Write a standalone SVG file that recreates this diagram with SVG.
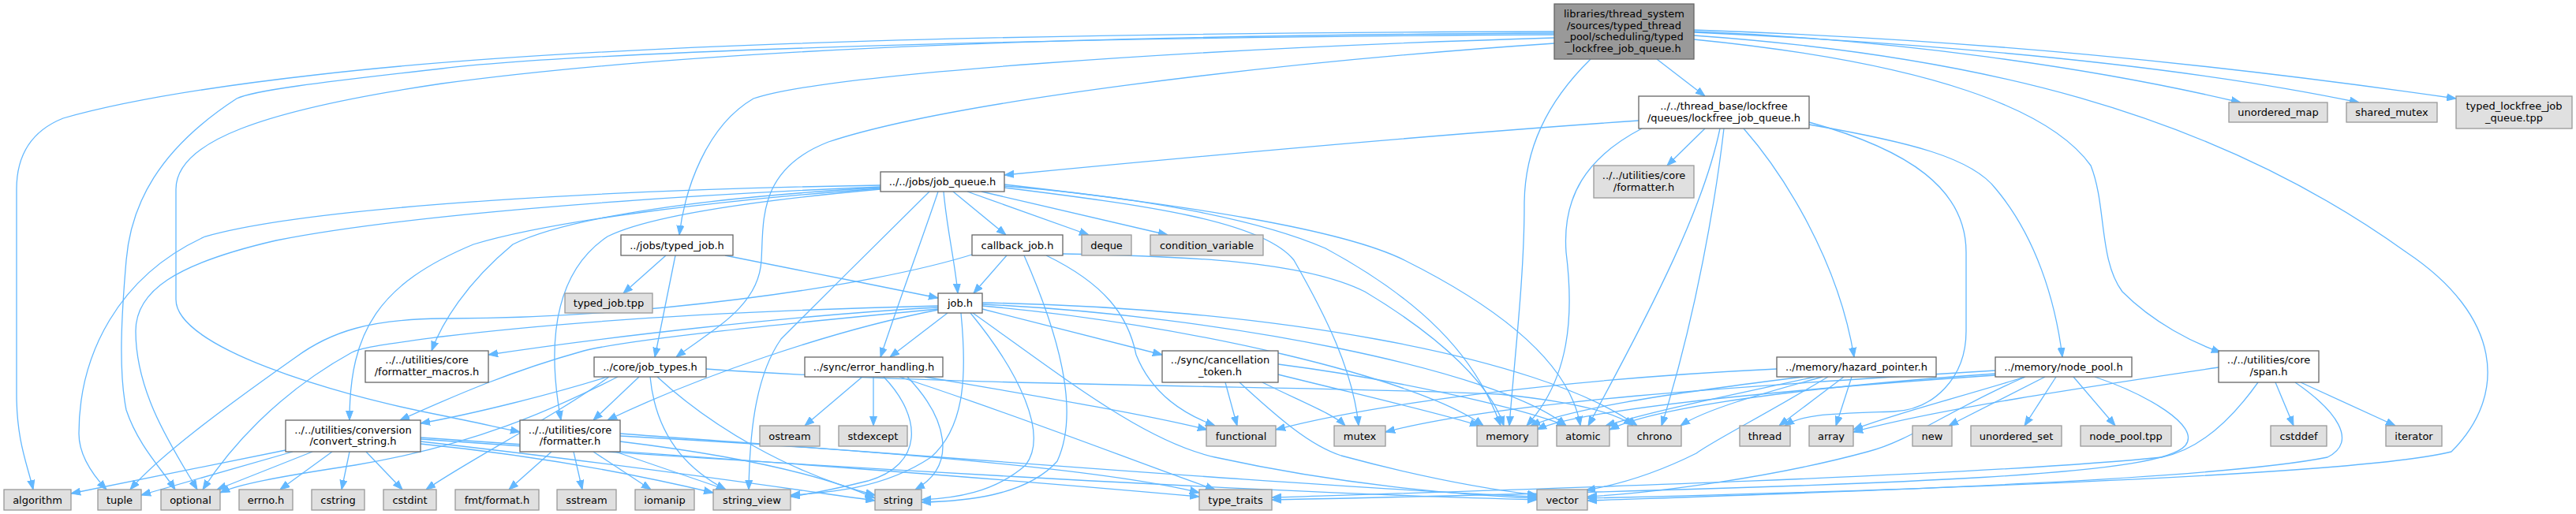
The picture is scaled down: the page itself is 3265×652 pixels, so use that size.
<svg xmlns="http://www.w3.org/2000/svg" width="3265" height="652" viewBox="0 0 3265 652">
<style>
.n{fill:#ffffff;stroke:#666666;stroke-width:1.3}
.s{fill:#e0e0e0;stroke:#999999;stroke-width:1.3}
.r{fill:#999999;stroke:#666666;stroke-width:1.3}
text{font-family:"DejaVu Sans","Liberation Sans",sans-serif;font-size:13px;fill:#000000;text-anchor:middle}
.e{fill:none;stroke:#63b8ff;stroke-width:1.3;marker-end:url(#ah)}
</style>
<defs>
<marker id="ah" markerUnits="userSpaceOnUse" markerWidth="12" markerHeight="10" refX="12" refY="5" orient="auto">
<path d="M0,0.5 L12,5 L0,9.5 z" fill="#63b8ff" stroke="#63b8ff" stroke-width="1"/>
</marker>
</defs>
<rect width="3265" height="652" fill="#ffffff"/>
<g id="edges">
<path class="e" d="M2100,75 L2161,122"/>
<path class="e" d="M1970,48 C1500,62 1040,95 955,125 C895,160 868,240 861,298"/>
<path class="e" d="M1970,55 C1600,80 1200,130 1050,180 C960,215 968,280 965,330 C962,390 900,420 857,453"/>
<path class="e" d="M1970,42 C1400,45 900,60 560,106 C330,140 223,180 223,240 L223,380 C223,440 420,500 560,527 C600,535 630,542 659,548"/>
<path class="e" d="M2016,75 C1960,130 1932,190 1932,260 C1932,350 1920,450 1913,540"/>
<path class="e" d="M1970,40 C1200,42 700,60 400,95 C250,112 150,130 80,150 C30,170 21,210 21,240 L21,500 C21,560 35,590 42,621"/>
<path class="e" d="M1970,44 C1200,48 700,70 560,87 C400,105 320,115 300,125 C200,190 166,260 160,330 C154,400 150,470 160,520 C175,565 205,595 222,621"/>
<path class="e" d="M2147,45 C2500,70 2800,140 3050,320 C3170,400 3180,500 3107,573 C3000,600 2500,620 2012,632"/>
<path class="e" d="M2147,50 C2450,80 2600,140 2650,210 C2670,260 2660,330 2690,370 C2730,410 2780,435 2815,447"/>
<path class="e" d="M2147,40 C2400,50 2650,85 2840,130"/>
<path class="e" d="M2147,41 C2450,55 2750,80 2990,130"/>
<path class="e" d="M2147,38 C2500,50 2800,80 3113,125"/>
<path class="e" d="M2077,153 C1800,172 1500,200 1273,222"/>
<path class="e" d="M2161,163 L2113,210"/>
<path class="e" d="M2210,163 C2260,220 2330,330 2350,453"/>
<path class="e" d="M2293,158 C2420,180 2500,200 2530,240 C2580,300 2605,380 2614,453"/>
<path class="e" d="M2081,163 C2010,200 1980,250 1985,320 C1995,400 1990,480 1935,540"/>
<path class="e" d="M2180,163 C2160,260 2100,380 2013,540"/>
<path class="e" d="M2185,163 C2175,250 2150,400 2106,540"/>
<path class="e" d="M2293,155 C2420,190 2492,240 2492,320 L2492,420 C2492,480 2450,520 2400,522 C2320,525 2285,525 2262,540"/>
<path class="e" d="M1196,243 C1200,290 1210,330 1214,372"/>
<path class="e" d="M1208,243 L1275,298"/>
<path class="e" d="M1226,243 L1380,298"/>
<path class="e" d="M1244,243 L1480,298"/>
<path class="e" d="M1178,243 C1120,300 1050,370 990,430 C955,480 950,560 949,621"/>
<path class="e" d="M1189,243 C1170,300 1140,380 1116,453"/>
<path class="e" d="M1116,235 C800,240 400,260 260,300 C150,350 100,450 100,550 C100,580 120,605 135,621"/>
<path class="e" d="M1116,237 C800,250 500,275 350,305 C220,335 172,370 172,420 C172,500 220,570 250,621"/>
<path class="e" d="M1116,238 C900,250 720,275 650,310 C590,360 560,410 547,445"/>
<path class="e" d="M1116,239 C900,255 700,280 600,310 C480,360 443,420 443,533"/>
<path class="e" d="M1116,240 C950,255 820,275 770,300 C710,340 690,420 711,533"/>
<path class="e" d="M1273,238 C1450,260 1600,280 1640,330 C1680,400 1715,470 1722,540"/>
<path class="e" d="M1273,236 C1450,250 1600,280 1680,315 C1800,380 1870,450 1902,540"/>
<path class="e" d="M1273,234 C1500,260 1700,290 1780,330 C1900,390 1990,460 2003,540"/>
<path class="e" d="M1276,324 L1234,372"/>
<path class="e" d="M1326,324 C1400,360 1430,400 1440,450 C1460,500 1500,525 1540,540"/>
<path class="e" d="M1298,324 C1340,420 1370,520 1340,585 C1300,630 1220,636 1168,637"/>
<path class="e" d="M1347,322 C1500,325 1650,330 1730,370 C1830,430 1890,490 1906,540"/>
<path class="e" d="M1235,322 C1100,365 800,405 560,404 C470,405 420,420 375,453 C280,520 200,580 165,621"/>
<path class="e" d="M1201,397 L1128,453"/>
<path class="e" d="M1245,392 L1473,450"/>
<path class="e" d="M1189,390 C1000,400 750,430 619,450"/>
<path class="e" d="M1189,392 C1000,410 800,430 740,445 C650,470 580,500 507,533"/>
<path class="e" d="M1189,393 C1050,420 880,480 770,533"/>
<path class="e" d="M1218,397 C1225,470 1225,540 1180,580 C1120,620 1050,625 1002,628"/>
<path class="e" d="M1230,397 C1290,470 1330,550 1300,590 C1260,625 1210,632 1168,634"/>
<path class="e" d="M1233,397 C1350,480 1450,560 1540,580 C1700,615 1850,628 1948,632"/>
<path class="e" d="M1245,388 C1500,410 1800,480 1880,540"/>
<path class="e" d="M1245,386 C1550,400 1900,470 1985,540"/>
<path class="e" d="M1245,384 C1600,390 1950,450 2075,540"/>
<path class="e" d="M1189,388 C900,395 700,410 560,427 C500,435 460,440 446,447 C350,500 290,570 257,621"/>
<path class="e" d="M1093,478 L1020,540"/>
<path class="e" d="M1107,478 L1107,540"/>
<path class="e" d="M1172,478 C1300,500 1450,525 1530,545"/>
<path class="e" d="M1140,478 C1300,530 1450,590 1540,621"/>
<path class="e" d="M1150,478 C1200,530 1215,590 1160,621"/>
<path class="e" d="M1120,478 C1170,530 1170,590 1100,610 C1060,620 1030,626 1002,630"/>
<path class="e" d="M1553,485 L1568,540"/>
<path class="e" d="M1600,485 C1650,510 1690,525 1705,540"/>
<path class="e" d="M1620,475 C1720,500 1830,525 1875,540"/>
<path class="e" d="M1620,462 C1760,480 1920,515 1985,540"/>
<path class="e" d="M1571,485 C1620,530 1660,565 1700,578 C1800,605 1880,620 1948,628"/>
<path class="e" d="M810,478 L752,533"/>
<path class="e" d="M824,478 C830,540 860,590 920,621"/>
<path class="e" d="M833,478 C900,540 1000,600 1109,628"/>
<path class="e" d="M772,478 C700,530 600,580 540,621"/>
<path class="e" d="M783,478 C700,520 600,565 450,590 C350,605 300,615 279,625"/>
<path class="e" d="M770,478 C700,500 600,525 533,537"/>
<path class="e" d="M895,468 C1200,490 1700,490 1900,500 C2000,510 2050,525 2070,540"/>
<path class="e" d="M699,573 L645,621"/>
<path class="e" d="M727,573 L738,621"/>
<path class="e" d="M752,573 L825,621"/>
<path class="e" d="M780,573 L920,621"/>
<path class="e" d="M786,560 C950,580 1050,605 1109,632"/>
<path class="e" d="M786,553 C1100,570 1400,595 1520,625"/>
<path class="e" d="M786,550 C1200,580 1700,620 1948,630"/>
<path class="e" d="M362,571 L90,626"/>
<path class="e" d="M371,573 L179,628"/>
<path class="e" d="M396,573 L275,621"/>
<path class="e" d="M421,573 L355,621"/>
<path class="e" d="M443,573 L433,621"/>
<path class="e" d="M464,573 L510,621"/>
<path class="e" d="M533,563 C700,580 820,605 904,625"/>
<path class="e" d="M533,560 C800,590 1000,620 1109,635"/>
<path class="e" d="M533,557 C1000,590 1600,625 1948,634"/>
<path class="e" d="M533,555 C900,580 1300,610 1520,630"/>
<path class="e" d="M844,324 L790,372"/>
<path class="e" d="M856,324 L830,453"/>
<path class="e" d="M919,324 C1000,340 1100,360 1189,378"/>
<path class="e" d="M2337,478 L2255,540"/>
<path class="e" d="M2347,478 L2327,540"/>
<path class="e" d="M2252,468 C2000,480 1750,510 1617,545"/>
<path class="e" d="M2285,478 C2150,495 2000,515 1940,540"/>
<path class="e" d="M2300,478 C2200,500 2100,520 2035,540"/>
<path class="e" d="M2310,478 C2230,500 2160,520 2130,540"/>
<path class="e" d="M2317,478 C2230,530 2170,560 2150,575 C2100,600 2050,615 2010,622"/>
<path class="e" d="M2592,478 L2470,540"/>
<path class="e" d="M2606,478 L2566,540"/>
<path class="e" d="M2628,478 L2681,540"/>
<path class="e" d="M2567,478 C2480,505 2400,525 2349,545"/>
<path class="e" d="M2529,470 C2200,490 1900,510 1756,548"/>
<path class="e" d="M2529,474 C2300,490 2100,515 2040,545"/>
<path class="e" d="M2529,476 C2250,495 2000,520 1948,545"/>
<path class="e" d="M2567,478 C2470,520 2420,560 2367,573 C2250,605 2100,625 2012,630"/>
<path class="e" d="M2655,478 C2720,500 2790,540 2770,565 C2740,600 2500,615 1612,634"/>
<path class="e" d="M2812,466 C2650,490 2450,520 2349,548"/>
<path class="e" d="M2884,485 L2907,540"/>
<path class="e" d="M2916,485 L3036,540"/>
<path class="e" d="M2862,485 C2830,530 2790,570 2740,580 C2500,605 1800,625 1612,631"/>
<path class="e" d="M2909,485 C2960,520 2990,560 2950,580 C2800,610 2300,625 2012,635"/>
</g>
<g id="n_root"><rect class="r" x="1970" y="5" width="177" height="70"/><text x="2058.5" y="22">libraries/thread_system</text><text x="2058.5" y="36.5">/sources/typed_thread</text><text x="2058.5" y="51">_pool/scheduling/typed</text><text x="2058.5" y="65.5">_lockfree_job_queue.h</text></g>
<g id="n_lockfree"><rect class="n" x="2077" y="122" width="216" height="41"/><text x="2185" y="139">../../thread_base/lockfree</text><text x="2185" y="153.5">/queues/lockfree_job_queue.h</text></g>
<g id="n_fmt_gray"><rect class="s" x="2020" y="210" width="127" height="41"/><text x="2083.5" y="227">../../utilities/core</text><text x="2083.5" y="241.5">/formatter.h</text></g>
<g id="n_typed_job"><rect class="n" x="787" y="298" width="142" height="26"/><text x="858" y="315.5">../jobs/typed_job.h</text></g>
<g id="n_job_queue"><rect class="n" x="1116" y="218" width="157" height="25"/><text x="1194.5" y="235">../../jobs/job_queue.h</text></g>
<g id="n_callback"><rect class="n" x="1232" y="298" width="115" height="26"/><text x="1289.5" y="315.5">callback_job.h</text></g>
<g id="n_deque"><rect class="s" x="1371" y="298" width="63" height="26"/><text x="1402.5" y="315.5">deque</text></g>
<g id="n_condvar"><rect class="s" x="1458" y="298" width="143" height="26"/><text x="1529.5" y="315.5">condition_variable</text></g>
<g id="n_unordered_map"><rect class="s" x="2825" y="130" width="125" height="25"/><text x="2887.5" y="147">unordered_map</text></g>
<g id="n_shared_mutex"><rect class="s" x="2974" y="130" width="115" height="25"/><text x="3031.5" y="147">shared_mutex</text></g>
<g id="n_tpp"><rect class="s" x="3113" y="122" width="147" height="41"/><text x="3186.5" y="139">typed_lockfree_job</text><text x="3186.5" y="153.5">_queue.tpp</text></g>
<g id="n_formatter_macros"><rect class="n" x="463" y="445" width="156" height="40"/><text x="541" y="461">../../utilities/core</text><text x="541" y="476">/formatter_macros.h</text></g>
<g id="n_convert_string"><rect class="n" x="362" y="533" width="171" height="40"/><text x="447.5" y="549.5">../../utilities/conversion</text><text x="447.5" y="564">/convert_string.h</text></g>
<g id="n_algorithm"><rect class="s" x="5" y="621" width="85" height="26"/><text x="47.5" y="638.5">algorithm</text></g>
<g id="n_tuple"><rect class="s" x="124" y="621" width="55" height="26"/><text x="151.5" y="638.5">tuple</text></g>
<g id="n_optional"><rect class="s" x="204" y="621" width="75" height="26"/><text x="241.5" y="638.5">optional</text></g>
<g id="n_errno"><rect class="s" x="303" y="621" width="68" height="26"/><text x="337" y="638.5">errno.h</text></g>
<g id="n_cstring"><rect class="s" x="395" y="621" width="67" height="26"/><text x="428.5" y="638.5">cstring</text></g>
<g id="n_cstdint"><rect class="s" x="486" y="621" width="67" height="26"/><text x="519.5" y="638.5">cstdint</text></g>
<g id="n_typed_job_tpp"><rect class="s" x="716" y="372" width="111" height="25"/><text x="771.5" y="389">typed_job.tpp</text></g>
<g id="n_job_types"><rect class="n" x="753" y="453" width="142" height="25"/><text x="824" y="470">../core/job_types.h</text></g>
<g id="n_error_handling"><rect class="n" x="1020" y="453" width="175" height="25"/><text x="1107.5" y="470">../sync/error_handling.h</text></g>
<g id="n_formatter"><rect class="n" x="659" y="533" width="127" height="40"/><text x="722.5" y="549.5">../../utilities/core</text><text x="722.5" y="564">/formatter.h</text></g>
<g id="n_ostream"><rect class="s" x="963" y="540" width="76" height="26"/><text x="1001" y="557.5">ostream</text></g>
<g id="n_stdexcept"><rect class="s" x="1063" y="540" width="87" height="26"/><text x="1106.5" y="557.5">stdexcept</text></g>
<g id="n_fmt_format"><rect class="s" x="577" y="621" width="106" height="26"/><text x="630" y="638.5">fmt/format.h</text></g>
<g id="n_sstream"><rect class="s" x="706" y="621" width="75" height="26"/><text x="743.5" y="638.5">sstream</text></g>
<g id="n_iomanip"><rect class="s" x="805" y="621" width="75" height="26"/><text x="842.5" y="638.5">iomanip</text></g>
<g id="n_string_view"><rect class="s" x="904" y="621" width="98" height="26"/><text x="953" y="638.5">string_view</text></g>
<g id="n_job_h"><rect class="n" x="1189" y="372" width="56" height="25"/><text x="1217" y="389">job.h</text></g>
<g id="n_cancellation"><rect class="n" x="1473" y="445" width="147" height="40"/><text x="1546.5" y="461">../sync/cancellation</text><text x="1546.5" y="476">_token.h</text></g>
<g id="n_functional"><rect class="s" x="1529" y="540" width="88" height="26"/><text x="1573" y="557.5">functional</text></g>
<g id="n_string"><rect class="s" x="1109" y="621" width="59" height="26"/><text x="1138.5" y="638.5">string</text></g>
<g id="n_type_traits"><rect class="s" x="1520" y="621" width="92" height="26"/><text x="1566" y="638.5">type_traits</text></g>
<g id="n_mutex"><rect class="s" x="1691" y="540" width="65" height="26"/><text x="1723.5" y="557.5">mutex</text></g>
<g id="n_memory"><rect class="s" x="1872" y="540" width="77" height="26"/><text x="1910.5" y="557.5">memory</text></g>
<g id="n_atomic"><rect class="s" x="1973" y="540" width="67" height="26"/><text x="2006.5" y="557.5">atomic</text></g>
<g id="n_chrono"><rect class="s" x="2063" y="540" width="68" height="26"/><text x="2097" y="557.5">chrono</text></g>
<g id="n_vector"><rect class="s" x="1948" y="621" width="64" height="26"/><text x="1980" y="638.5">vector</text></g>
<g id="n_hazard"><rect class="n" x="2252" y="453" width="202" height="25"/><text x="2353" y="470">../memory/hazard_pointer.h</text></g>
<g id="n_node_pool"><rect class="n" x="2529" y="453" width="173" height="25"/><text x="2615.5" y="470">../memory/node_pool.h</text></g>
<g id="n_thread"><rect class="s" x="2205" y="540" width="64" height="26"/><text x="2237" y="557.5">thread</text></g>
<g id="n_array"><rect class="s" x="2293" y="540" width="56" height="26"/><text x="2321" y="557.5">array</text></g>
<g id="n_new"><rect class="s" x="2424" y="540" width="50" height="26"/><text x="2449" y="557.5">new</text></g>
<g id="n_unordered_set"><rect class="s" x="2498" y="540" width="115" height="26"/><text x="2555.5" y="557.5">unordered_set</text></g>
<g id="n_node_pool_tpp"><rect class="s" x="2637" y="540" width="115" height="26"/><text x="2694.5" y="557.5">node_pool.tpp</text></g>
<g id="n_span"><rect class="n" x="2812" y="445" width="127" height="40"/><text x="2875.5" y="461">../../utilities/core</text><text x="2875.5" y="476">/span.h</text></g>
<g id="n_cstddef"><rect class="s" x="2878" y="540" width="71" height="26"/><text x="2913.5" y="557.5">cstddef</text></g>
<g id="n_iterator"><rect class="s" x="3024" y="540" width="71" height="26"/><text x="3059.5" y="557.5">iterator</text></g>
</svg>
